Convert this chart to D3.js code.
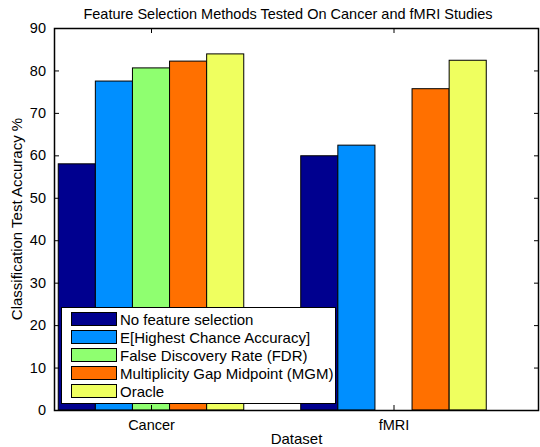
<!DOCTYPE html>
<html>
<head>
<meta charset="utf-8">
<script src="https://cdn.jsdelivr.net/npm/d3@7"></script>
<style>
  body { margin: 0; background: #fff; }
  svg text { font-family: 'Liberation Sans', Arial, sans-serif; fill: #000; }
</style>
</head>
<body>
<div class="chart-wrapper"></div>
<script>
const categories = ['Cancer', 'fMRI']
const methods = [
  'No feature selection',
  'E[Highest Chance Accuracy]',
  'False Discovery Rate (FDR)',
  'Multiplicity Gap Midpoint (MGM)',
  'Oracle'
]
const noSelection = [58.0, 59.9]
const highestChance = [77.5, 62.4]
const fdr = [80.6, 0]
const mgm = [82.2, 75.7]
const oracle = [83.9, 82.4]
const yTicks = [0, 10, 20, 30, 40, 50, 60, 70, 80, 90]
const methodColors = ['#00008f', '#008fff', '#8fff70', '#ff7000', '#efff5f']

const series = [noSelection, highestChance, fdr, mgm, oracle]

const width = 540
const height = 447
const margin = {left: 54, right: 1, top: 28, bottom: 37}

const x = d3.scaleLinear()
  .domain([0.6, 2.6])
  .range([margin.left, width - margin.right])

const y = d3.scaleLinear()
  .domain([0, 90])
  .range([height - margin.bottom, margin.top])

const color = d3.scaleOrdinal()
  .domain(methods)
  .range(methodColors)

const barWidth = 0.153

let svg = d3.select('.chart-wrapper').append('svg')
  .attr('width', width)
  .attr('height', height)

// bars
let bars = svg.append('g')

series.forEach((values, j) => {
  bars.selectAll('.s' + j)
    .data(values)
    .enter()
    .append('rect')
    .attr('class', 's' + j)
    .attr('x', (d, i) => x(i + 1 + (j - 2.5) * barWidth))
    .attr('width', x(1 + barWidth) - x(1))
    .attr('y', d => y(d))
    .attr('height', d => y(0) - y(d))
    .attr('fill', color(methods[j]))
    .attr('stroke', '#000')
    .attr('stroke-width', 1)
})

// axes (ticks inside, mirrored like matlab)
const tickLen = 5

let axisLeft = d3.axisLeft(y).tickValues(yTicks).tickSizeInner(-tickLen).tickSizeOuter(0).tickPadding(8)
let axisRight = d3.axisRight(y).tickValues(yTicks).tickSizeInner(-tickLen).tickSizeOuter(0).tickFormat('')
let axisBottom = d3.axisBottom(x).tickValues([1, 2]).tickSizeInner(-tickLen).tickSizeOuter(0).tickPadding(10)
  .tickFormat(d => categories[d - 1])
let axisTop = d3.axisTop(x).tickValues([1, 2]).tickSizeInner(-tickLen).tickSizeOuter(0).tickFormat('')

svg.append('g').attr('transform', 'translate(' + margin.left + ',0)').call(axisLeft)
svg.append('g').attr('transform', 'translate(' + (width - margin.right) + ',0)').call(axisRight)
svg.append('g').attr('transform', 'translate(0,' + (height - margin.bottom) + ')').call(axisBottom)
svg.append('g').attr('transform', 'translate(0,' + margin.top + ')').call(axisTop)

svg.selectAll('.domain').remove()
svg.selectAll('.tick line').attr('stroke', '#000')
svg.selectAll('.tick text').style('font-size', '14.5px')

// legend
const lgX = 61, lgY = 307, lgW = 274, lgH = 96, rowH = 18

let legend = svg.append('g')

legend.append('rect')
  .attr('x', lgX + 0.5)
  .attr('y', lgY + 0.5)
  .attr('width', lgW)
  .attr('height', lgH)
  .attr('fill', '#fff')
  .attr('stroke', '#000')

let rows = legend.selectAll('.row')
  .data(methods)
  .enter()
  .append('g')
  .attr('transform', (d, i) => 'translate(' + (lgX + 10) + ',' + (lgY + 5 + i * rowH) + ')')

rows.append('rect')
  .attr('x', 0.5)
  .attr('y', 0.5)
  .attr('width', 45)
  .attr('height', 13)
  .attr('fill', d => color(d))
  .attr('stroke', '#000')

rows.append('text')
  .attr('x', 49)
  .attr('y', 12.5)
  .style('font-size', '15px')
  .text(d => d)

// axis box
svg.append('rect')
  .attr('x', margin.left + 0.5)
  .attr('y', margin.top + 0.5)
  .attr('width', width - margin.right - margin.left - 1)
  .attr('height', height - margin.bottom - margin.top)
  .attr('fill', 'none')
  .attr('stroke', '#000')
  .attr('stroke-width', 1.5)

// titles
svg.append('text')
  .attr('x', 288)
  .attr('y', 19)
  .attr('text-anchor', 'middle')
  .style('font-size', '14.5px')
  .text('Feature Selection Methods Tested On Cancer and fMRI Studies')

svg.append('text')
  .attr('x', (margin.left + width - margin.right) / 2)
  .attr('y', 444)
  .attr('text-anchor', 'middle')
  .style('font-size', '15px')
  .text('Dataset')

svg.append('text')
  .attr('transform', 'translate(22,' + ((margin.top + height - margin.bottom) / 2) + ') rotate(-90)')
  .attr('text-anchor', 'middle')
  .style('font-size', '15px')
  .text('Classification Test Accuracy %')
</script>
</body>
</html>
